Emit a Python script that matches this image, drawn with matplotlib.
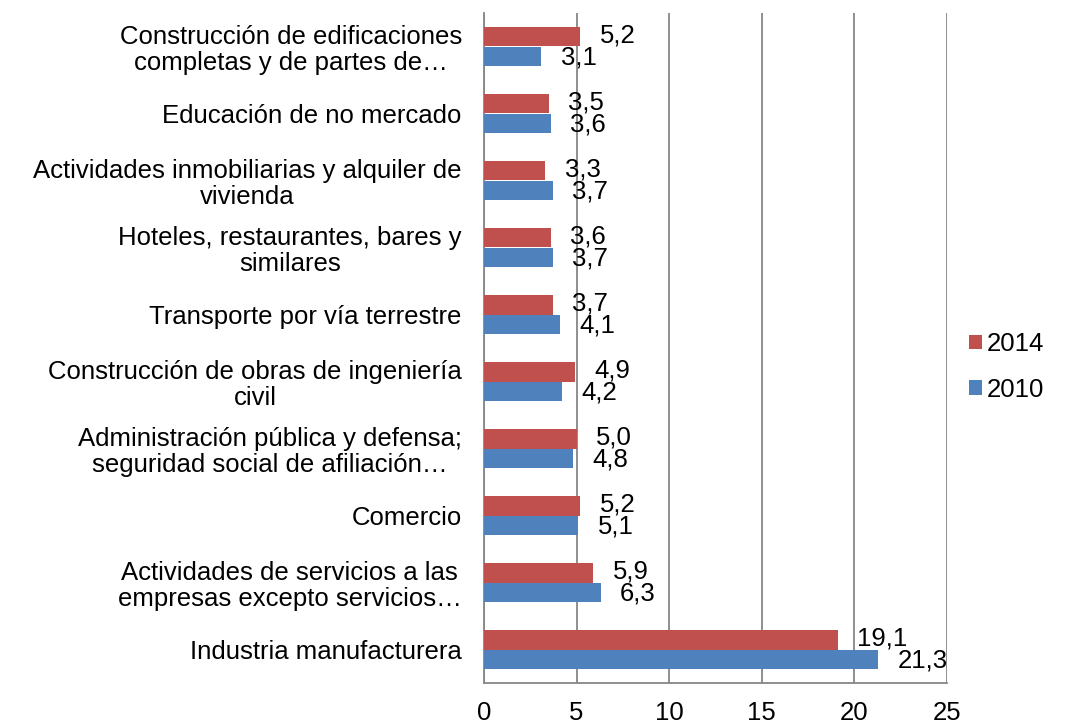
# Horizontal bar chart: 2010 vs 2014 by sector
import numpy as np
import matplotlib.pyplot as plt

plt.rcParams['font.family'] = ['Liberation Sans', 'DejaVu Sans']

# data (top to bottom as shown)
sectors = [
    'Construcción de edificaciones\ncompletas y de partes de…',
    'Educación de no mercado',
    'Actividades inmobiliarias y alquiler de\nvivienda',
    'Hoteles, restaurantes, bares y\nsimilares',
    'Transporte por vía terrestre',
    'Construcción de obras de ingeniería\ncivil',
    'Administración pública y defensa;\nseguridad social de afiliación…',
    'Comercio',
    'Actividades de servicios a las\nempresas excepto servicios…',
    'Industria manufacturera',
]
values_2014 = [5.2, 3.5, 3.3, 3.6, 3.7, 4.9, 5.0, 5.2, 5.9, 19.1]
values_2010 = [3.1, 3.6, 3.7, 3.7, 4.1, 4.2, 4.8, 5.1, 6.3, 21.3]
xticks = [0, 5, 10, 15, 20, 25]

red = '#C0504D'
blue = '#4F81BD'
fs = 18.5

fig = plt.figure(figsize=(10.85, 7.25), dpi=100)
ax = fig.add_axes([484/1085, 1 - 683/725, (947 - 484)/1085, (683 - 13)/725])

y = np.arange(len(sectors))
h = 0.285
ax.barh(y - h/2, values_2014, height=h, color=red, label='2014', zorder=3)
ax.barh(y + h/2, values_2010, height=h, color=blue, label='2010', zorder=3)

for yi, v in zip(y, values_2014):
    ax.annotate(f'{v:.1f}'.replace('.', ','), (v, yi - h/2), xytext=(14, 1),
                textcoords='offset points', va='center', ha='left', fontsize=fs)
for yi, v in zip(y, values_2010):
    ax.annotate(f'{v:.1f}'.replace('.', ','), (v, yi + h/2), xytext=(14, -1),
                textcoords='offset points', va='center', ha='left', fontsize=fs)

ax.set_ylim(len(sectors) - 0.5, -0.5)
ax.set_xlim(0, 25)
ax.set_xticks(xticks)
ax.set_xticklabels([str(t) for t in xticks], fontsize=fs)
ax.set_yticks(y)
ax.set_yticklabels(sectors, fontsize=fs, multialignment='center', linespacing=1.1)
ax.tick_params(axis='y', length=0, pad=16)
ax.tick_params(axis='x', length=0, pad=13)

ax.grid(axis='x', color='#868686', linewidth=1.3, zorder=0)
for s in ['top', 'right']:
    ax.spines[s].set_visible(False)
for s in ['left', 'bottom']:
    ax.spines[s].set_color('#868686')
    ax.spines[s].set_linewidth(1.3)

handles, labels = ax.get_legend_handles_labels()
fig.legend(handles, labels, loc='center left', bbox_to_anchor=(946/1085, 1 - 367/725),
           frameon=False, fontsize=fs, handlelength=0.5, handleheight=0.5,
           handletextpad=0.2, labelspacing=0.85)

plt.savefig('out.png', dpi=100)
